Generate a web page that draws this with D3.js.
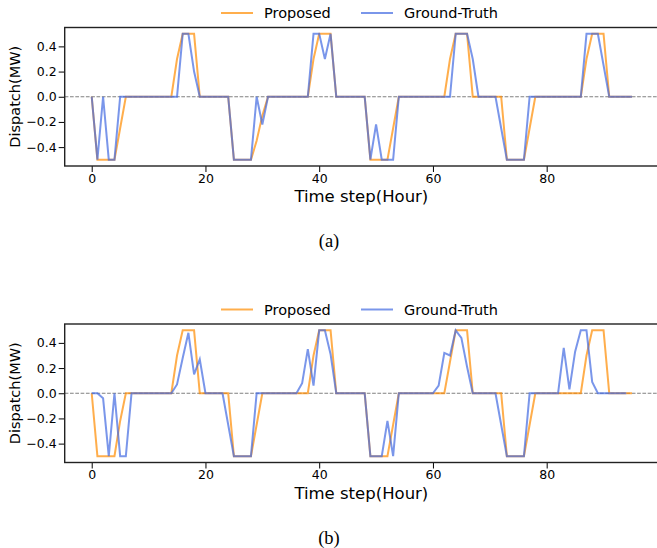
<!DOCTYPE html>
<html>
<head>
<meta charset="utf-8">
<script src="https://cdn.jsdelivr.net/npm/d3@7"></script>
<style>
body { margin: 0; background: #fff; }
svg text { font-family: "DejaVu Sans", sans-serif; fill: #000; }
.tick text { font-size: 12.5px; }
.caption { font-family: "Liberation Serif", "Times New Roman", serif; font-size: 18.5px; }
</style>
</head>
<body>
<svg width="657" height="548"></svg>
<script>
// time steps 0..95
var steps = d3.range(0, 96);

// panel (a)
var proposedA = [0,-0.5,-0.5,-0.5,-0.5,-0.25,0,0,0,0,0,0,0,0,0,0.3,0.5,0.5,0.5,0,
  0,0,0,0,0,-0.5,-0.5,-0.5,-0.5,-0.35,-0.15,0,0,0,0,0,0,0,0,0.3,0.5,0.5,0.5,0,
  0,0,0,0,0,-0.5,-0.5,-0.5,-0.5,-0.25,0,0,0,0,0,0,0,0,0,0.3,0.5,0.5,0.5,0,
  0,0,0,0,0,-0.5,-0.5,-0.5,-0.5,-0.25,0,0,0,0,0,0,0,0,0,0.3,0.5,0.5,0.5,0,0,0,0,0];
var truthA = [0,-0.5,0,-0.5,-0.5,0,0,0,0,0,0,0,0,0,0,0,0.5,0.5,0.2,0,
  0,0,0,0,0,-0.5,-0.5,-0.5,-0.5,0,-0.22,0,0,0,0,0,0,0,0,0.5,0.5,0.3,0.5,0,
  0,0,0,0,0,-0.5,-0.22,-0.5,-0.5,-0.5,0,0,0,0,0,0,0,0,0,0,0.5,0.5,0.5,0.3,0,
  0,0,0,-0.25,-0.5,-0.5,-0.5,-0.5,0,0,0,0,0,0,0,0,0,0,0.5,0.5,0.5,0.25,0,0,0,0,0];

// panel (b)
var proposedB = [0,-0.5,-0.5,-0.5,-0.5,-0.22,0,0,0,0,0,0,0,0,0,0.3,0.5,0.5,0.5,0,
  0,0,0,0,0,-0.5,-0.5,-0.5,-0.5,-0.25,0,0,0,0,0,0,0,0,0,0.3,0.5,0.5,0.5,0,
  0,0,0,0,0,-0.5,-0.5,-0.5,-0.5,-0.25,0,0,0,0,0,0,0,0,0,0.25,0.5,0.5,0.5,0,
  0,0,0,0,0,-0.5,-0.5,-0.5,-0.5,-0.25,0,0,0,0,0,0,0,0,0,0.3,0.5,0.5,0.5,0,0,0,0,0];
var truthB = [0,0,-0.04,-0.5,0,-0.5,-0.5,0,0,0,0,0,0,0,0,0.07,0.28,0.48,0.15,0.27,
  0,0,0,0,-0.25,-0.5,-0.5,-0.5,-0.5,0,0,0,0,0,0,0,0,0.08,0.35,0.06,0.5,0.5,0.31,0,
  0,0,0,0,0,-0.5,-0.5,-0.5,-0.22,-0.5,0,0,0,0,0,0,0,0.06,0.32,0.3,0.5,0.44,0.21,0,
  0,0,0,0,-0.25,-0.5,-0.5,-0.5,-0.5,0,0,0,0,0,0,0.36,0.03,0.33,0.5,0.5,0.09,0,0,0,0,0,0];

var xTicks = [0, 20, 40, 60, 80];
var yTicks = [-0.4, -0.2, 0.0, 0.2, 0.4];
var seriesNames = ["Proposed", "Ground-Truth"];
var seriesColors = ["#ff8c00", "#4169e1"];

var svg = d3.select("svg");

var left = 64.7, right = 659;
var plotH = 138.5;

var xScale = d3.scaleLinear().domain([-4.75, 99.75]).range([left, right]);

function drawPanel(top, proposed, truth, caption) {
  var bottom = top + plotH;
  var yScale = d3.scaleLinear().domain([-0.55, 0.55]).range([bottom, top]);
  var g = svg.append("g");

  // zero reference line
  g.append("line")
    .attr("x1", left).attr("x2", right)
    .attr("y1", yScale(0)).attr("y2", yScale(0))
    .attr("stroke", "#808080")
    .attr("stroke-width", 1)
    .attr("stroke-dasharray", "3.7,1.6");

  var line = d3.line()
    .x(function(d, i) { return xScale(steps[i]); })
    .y(function(d) { return yScale(d); });

  [proposed, truth].forEach(function(vals, k) {
    g.append("path")
      .datum(vals)
      .attr("d", line)
      .attr("fill", "none")
      .attr("stroke", seriesColors[k])
      .attr("stroke-opacity", 0.7)
      .attr("stroke-width", 2)
      .attr("stroke-linejoin", "miter");
  });

  var xAxis = g.append("g")
    .attr("transform", "translate(0," + bottom + ")")
    .call(d3.axisBottom(xScale).tickValues(xTicks).tickSize(6).tickPadding(2).tickSizeOuter(0));
  var yAxis = g.append("g")
    .attr("transform", "translate(" + left + ",0)")
    .call(d3.axisLeft(yScale).tickValues(yTicks).tickFormat(d3.format(".1f")).tickSize(6).tickPadding(2).tickSizeOuter(0));
  [xAxis, yAxis].forEach(function(a) {
    a.select(".domain").remove();
    a.selectAll(".tick line").attr("stroke", "#000").attr("stroke-width", 1);
  });

  // frame
  g.append("rect")
    .attr("x", left).attr("y", top)
    .attr("width", right - left).attr("height", plotH)
    .attr("fill", "none")
    .attr("stroke", "#222")
    .attr("stroke-width", 1.4);

  g.append("text")
    .attr("x", (left + right) / 2 - 0.5)
    .attr("y", bottom + 36)
    .attr("text-anchor", "middle")
    .style("font-size", "16.5px")
    .text("Time step(Hour)");

  g.append("text")
    .attr("transform", "translate(20," + (top + plotH / 2) + ") rotate(-90)")
    .attr("text-anchor", "middle")
    .style("font-size", "14.5px")
    .text("Dispatch(MW)");

  // legend
  var legX = [221, 361];
  seriesNames.forEach(function(name, k) {
    var ly = top - 14.5;
    g.append("line")
      .attr("x1", legX[k]).attr("x2", legX[k] + 32)
      .attr("y1", ly).attr("y2", ly)
      .attr("stroke", seriesColors[k])
      .attr("stroke-opacity", 0.7)
      .attr("stroke-width", 2);
    g.append("text")
      .attr("x", legX[k] + 43)
      .attr("y", ly + 5)
      .style("font-size", "14.5px")
      .text(name);
  });

  g.append("text")
    .attr("class", "caption")
    .attr("x", 329)
    .attr("y", bottom + 81)
    .attr("text-anchor", "middle")
    .text(caption);
}

drawPanel(27.5, proposedA, truthA, "(a)");
drawPanel(324, proposedB, truthB, "(b)");
</script>
</body>
</html>
